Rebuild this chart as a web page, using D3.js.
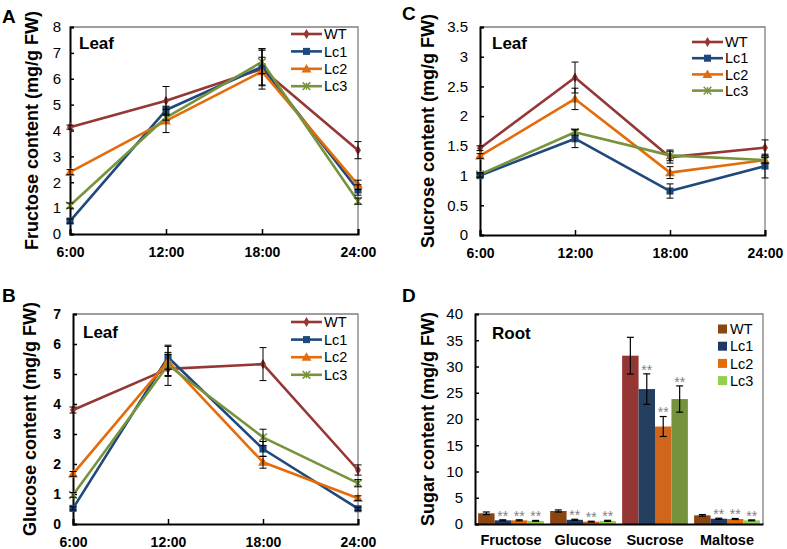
<!DOCTYPE html>
<html><head><meta charset="utf-8">
<script src="https://cdn.jsdelivr.net/npm/d3@7"></script>
<style>body{margin:0;background:#fff}svg{display:block}</style>
</head><body>
<svg id="chart" width="787" height="549"></svg>
<script>
// ---------- data ----------
const times = ["6:00", "12:00", "18:00", "24:00"];
const seriesNames = ["WT", "Lc1", "Lc2", "Lc3"];

// Panel A: leaf fructose (mg/g FW), rows = WT, Lc1, Lc2, Lc3
const fructoseLeaf = [
  [4.13, 5.15, 6.38, 3.24],
  [0.50, 4.79, 6.46, 1.70],
  [2.39, 4.37, 6.28, 1.90],
  [1.10, 4.50, 6.65, 1.27]
];
const fructoseLeafErr = [
  [0.08, 0.55, 0.78, 0.33],
  [0.08, 0.15, 0.70, 0.20],
  [0.10, 0.45, 0.55, 0.18],
  [0.10, 0.10, 0.45, 0.12]
];

// Panel B: leaf glucose
const glucoseLeaf = [
  [3.80, 5.17, 5.33, 1.80],
  [0.52, 5.56, 2.50, 0.51],
  [1.67, 5.42, 2.06, 0.86],
  [0.97, 5.30, 2.89, 1.36]
];
const glucoseLeafErr = [
  [0.10, 0.55, 0.55, 0.17],
  [0.05, 0.40, 0.25, 0.05],
  [0.08, 0.50, 0.20, 0.08],
  [0.08, 0.35, 0.27, 0.12]
];

// Panel C: leaf sucrose
const sucroseLeaf = [
  [1.46, 2.65, 1.31, 1.47],
  [1.00, 1.62, 0.74, 1.16],
  [1.33, 2.29, 1.05, 1.26],
  [1.02, 1.73, 1.34, 1.26]
];
const sucroseLeafErr = [
  [0.04, 0.26, 0.10, 0.13],
  [0.03, 0.15, 0.12, 0.20],
  [0.04, 0.18, 0.10, 0.05],
  [0.03, 0.05, 0.09, 0.05]
];

// Panel D: root sugars
const sugars = ["Fructose", "Glucose", "Sucrose", "Maltose"];
const rootValues = [
  [2.04, 2.48, 32.06, 1.65],
  [0.70, 0.80, 25.70, 1.00],
  [0.70, 0.45, 18.57, 0.95],
  [0.60, 0.60, 23.80, 0.70]
];
const rootErr = [
  [0.25, 0.20, 3.50, 0.15],
  [0.10, 0.10, 2.90, 0.10],
  [0.10, 0.08, 1.90, 0.10],
  [0.08, 0.10, 2.50, 0.08]
];
const rootSignif = [
  ["", "", "", ""],
  ["**", "**", "**", "**"],
  ["**", "**", "**", "**"],
  ["**", "**", "**", "**"]
];

const yTicksA = [0, 1, 2, 3, 4, 5, 6, 7, 8];
const yTicksB = [0, 1, 2, 3, 4, 5, 6, 7];
const yTicksC = [0, 0.5, 1, 1.5, 2, 2.5, 3, 3.5];
const yTicksD = [0, 5, 10, 15, 20, 25, 30, 35, 40];

// ---------- styles ----------
const lineColors = ["#953735", "#1F497D", "#E46C0A", "#77933C"];
const barColors = ["#8B4513", "#1F3864", "#E36C09", "#92D050"];
const barColorsSucrose = ["#943634", "#243F60", "#D0661C", "#76923C"];
const markerTypes = ["diamond", "square", "triangle", "star"];
const SANS = "'Liberation Sans', Arial, sans-serif";

const svg = d3.select("#chart");

function drawMarker(g, type, color, x, y) {
  if (type === "star") {
    g.append("path")
      .attr("d", d3.symbol().type(d3.symbolX).size(40)())
      .attr("transform", `translate(${x},${y})`)
      .attr("stroke", color).attr("stroke-width", 1.5).attr("fill", "none");
    g.append("line").attr("x1", x).attr("x2", x).attr("y1", y - 3.5).attr("y2", y + 3.5)
      .attr("stroke", color).attr("stroke-width", 1.3);
    return;
  }
  const sym = type === "diamond" ? d3.symbolDiamond : type === "square" ? d3.symbolSquare : d3.symbolTriangle;
  const size = type === "diamond" ? 30 : type === "square" ? 50 : 42;
  g.append("path")
    .attr("d", d3.symbol().type(sym).size(size)())
    .attr("transform", `translate(${x},${y + (type === "triangle" ? 0.8 : 0)})`)
    .attr("fill", color);
}

function frame(g, x0, x1, y0, y1) {
  g.append("path")
    .attr("d", `M${x0},${y0}H${x1}V${y1}`)
    .attr("fill", "none").attr("stroke", "#7f7f7f").attr("stroke-width", 1.3);
}

function yAxis(g, y, x0, ticks, bold, gap) {
  const ax = d3.axisLeft(y).tickValues(ticks).tickSize(-4).tickPadding(gap)
    .tickFormat(d => String(d));
  const a = g.append("g").attr("transform", `translate(${x0},0)`).call(ax);
  a.select(".domain").attr("stroke", "#000").attr("stroke-width", 2);
  a.selectAll(".tick line").attr("stroke", "#000").attr("stroke-width", 1.5);
  a.selectAll(".tick text").attr("font-family", SANS).attr("font-size", bold ? 14 : 15)
    .attr("font-weight", bold ? "bold" : "normal").attr("fill", "#000");
}

function yTitle(g, text, x, yc) {
  g.append("text").attr("transform", `translate(${x},${yc}) rotate(-90)`)
    .attr("text-anchor", "middle").attr("font-family", SANS)
    .attr("font-weight", "bold").attr("font-size", 18).text(text);
}

function panelLetter(g, text, x, y) {
  g.append("text").attr("x", x).attr("y", y).attr("font-family", SANS)
    .attr("font-weight", "bold").attr("font-size", 19).text(text);
}

function innerLabel(g, text, x, y) {
  g.append("text").attr("x", x).attr("y", y).attr("font-family", SANS)
    .attr("font-weight", "bold").attr("font-size", 17).text(text);
}

function linePanel(cfg) {
  const g = svg.append("g");
  const x = d3.scalePoint().domain(times).range([cfg.x0, cfg.x1]);
  const y = d3.scaleLinear().domain([0, cfg.ymax]).range([cfg.y1, cfg.y0]);
  frame(g, cfg.x0, cfg.x1, cfg.y0, cfg.y1);

  const xa = g.append("g").attr("transform", `translate(0,${cfg.y1})`)
    .call(d3.axisBottom(x).tickSize(-5).tickPadding(10));
  xa.select(".domain").attr("stroke", "#000").attr("stroke-width", 2);
  xa.selectAll(".tick line").attr("stroke", "#000").attr("stroke-width", 1.5);
  xa.selectAll(".tick text").attr("font-family", SANS).attr("font-size", 14)
    .attr("font-weight", "bold").attr("fill", "#000").attr("dy", "0.95em");
  yAxis(g, y, cfg.x0, cfg.ticks, cfg.boldY, cfg.gap);

  const line = d3.line().x((d, i) => x(times[i])).y(d => y(d));
  cfg.values.forEach((vals, s) => {
    g.append("path").attr("d", line(vals)).attr("fill", "none")
      .attr("stroke", lineColors[s]).attr("stroke-width", 2.6).attr("stroke-linejoin", "round");
  });
  cfg.values.forEach((vals, s) => {
    vals.forEach((v, i) => drawMarker(g, markerTypes[s], lineColors[s], x(times[i]), y(v)));
  });
  cfg.values.forEach((vals, s) => {
    vals.forEach((v, i) => {
      const e = cfg.err[s][i], cx = x(times[i]);
      const eg = g.append("g").attr("stroke", "#000").attr("stroke-width", 1);
      eg.append("line").attr("x1", cx).attr("x2", cx).attr("y1", y(v + e)).attr("y2", y(v - e));
      eg.append("line").attr("x1", cx - 3.5).attr("x2", cx + 3.5).attr("y1", y(v + e)).attr("y2", y(v + e));
      eg.append("line").attr("x1", cx - 3.5).attr("x2", cx + 3.5).attr("y1", y(v - e)).attr("y2", y(v - e));
    });
  });

  seriesNames.forEach((name, s) => {
    const ly = cfg.legY + s * cfg.legDy;
    g.append("line").attr("x1", cfg.legX).attr("x2", cfg.legX + 31).attr("y1", ly).attr("y2", ly)
      .attr("stroke", lineColors[s]).attr("stroke-width", 2.6);
    drawMarker(g, markerTypes[s], lineColors[s], cfg.legX + 15.5, ly);
    g.append("text").attr("x", cfg.legX + 33).attr("y", ly).attr("dy", "0.36em")
      .attr("font-family", SANS).attr("font-size", 14.5).text(name);
  });

  innerLabel(g, "Leaf", cfg.labelX, cfg.labelY);
  yTitle(g, cfg.title, cfg.titleX, (cfg.y0 + cfg.y1) / 2);
  panelLetter(g, cfg.letter, cfg.letterX, cfg.letterY);
}

linePanel({
  x0: 70, x1: 358, y0: 27, y1: 234, ymax: 8, ticks: yTicksA, boldY: false, gap: 9,
  values: fructoseLeaf, err: fructoseLeafErr,
  legX: 291, legY: 34, legDy: 17.4,
  labelX: 79, labelY: 49,
  title: "Fructose content (mg/g FW)", titleX: 38,
  letter: "A", letterX: 2, letterY: 23
});

linePanel({
  x0: 73, x1: 358, y0: 314, y1: 524, ymax: 7, ticks: yTicksB, boldY: true, gap: 12,
  values: glucoseLeaf, err: glucoseLeafErr,
  legX: 291, legY: 322, legDy: 17.6,
  labelX: 83, labelY: 338,
  title: "Glucose content (mg/g FW)", titleX: 36,
  letter: "B", letterX: 2, letterY: 302
});

linePanel({
  x0: 480, x1: 765, y0: 27, y1: 235, ymax: 3.5, ticks: yTicksC, boldY: false, gap: 12,
  values: sucroseLeaf, err: sucroseLeafErr,
  legX: 692, legY: 42, legDy: 16.2,
  labelX: 492, labelY: 49,
  title: "Sucrose content (mg/g FW)", titleX: 434,
  letter: "C", letterX: 402, letterY: 20
});

// ---------- Panel D: bars ----------
(function () {
  const x0 = 475, x1 = 763, y0 = 314, y1 = 524;
  const g = svg.append("g");
  const x = d3.scaleBand().domain(sugars).range([x0, x1]).paddingInner(0).paddingOuter(0);
  const xs = d3.scaleBand().domain(seriesNames).range([0, x.bandwidth()]).paddingOuter(0.19).paddingInner(0);
  const y = d3.scaleLinear().domain([0, 40]).range([y1, y0]);
  frame(g, x0, x1, y0, y1);

  sugars.forEach((sug, c) => {
    seriesNames.forEach((name, s) => {
      const v = rootValues[s][c], e = rootErr[s][c];
      const bx = x(sug) + xs(name), bw = xs.bandwidth();
      const col = sug === "Sucrose" ? barColorsSucrose[s] : barColors[s];
      g.append("rect").attr("x", bx).attr("y", y(v)).attr("width", bw).attr("height", y1 - y(v))
        .attr("fill", col);
      const cx = bx + bw / 2;
      const eg = g.append("g").attr("stroke", "#000").attr("stroke-width", 1.2);
      eg.append("line").attr("x1", cx).attr("x2", cx).attr("y1", y(v + e)).attr("y2", y(v - e));
      eg.append("line").attr("x1", cx - 3.5).attr("x2", cx + 3.5).attr("y1", y(v + e)).attr("y2", y(v + e));
      eg.append("line").attr("x1", cx - 3.5).attr("x2", cx + 3.5).attr("y1", y(v - e)).attr("y2", y(v - e));
      const sig = rootSignif[s][c];
      if (sig) {
        g.append("text").attr("x", cx).attr("y", y(v + e) - 4).attr("dy", "0.35em")
          .attr("text-anchor", "middle").attr("font-family", SANS).attr("font-size", 14)
          .attr("fill", "#7f7f7f").text(sig);
      }
    });
  });

  const xa = g.append("g").attr("transform", `translate(0,${y1})`)
    .call(d3.axisBottom(x).tickSize(0).tickPadding(7));
  xa.select(".domain").attr("stroke", "#000").attr("stroke-width", 2);
  xa.selectAll(".tick text").attr("font-family", SANS).attr("font-size", 14.5)
    .attr("font-weight", "bold").attr("fill", "#000").attr("dy", "0.95em");
  yAxis(g, y, x0, yTicksD, false, 12);

  seriesNames.forEach((name, s) => {
    const ly = 329 + s * 17.2;
    g.append("rect").attr("x", 718).attr("y", ly - 4.5).attr("width", 9).attr("height", 9)
      .attr("fill", barColors[s]);
    g.append("text").attr("x", 730).attr("y", ly).attr("dy", "0.36em")
      .attr("font-family", SANS).attr("font-size", 14.5).text(name);
  });

  innerLabel(g, "Root", 492, 339);
  yTitle(g, "Sugar content (mg/g FW)", 434, (y0 + y1) / 2);
  panelLetter(g, "D", 402, 302);
})();
</script>
</body></html>
